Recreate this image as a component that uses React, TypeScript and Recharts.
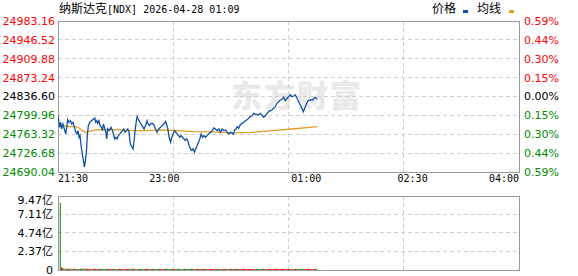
import React from "react";
import {
  LineChart,
  Line,
  BarChart,
  Bar,
  Cell,
  XAxis,
  YAxis,
  CartesianGrid,
  ReferenceArea,
} from "recharts";

const prevClose = 24836.6;
const priceTicks = [
  24690.04, 24726.68, 24763.32, 24799.96, 24836.6, 24873.24, 24909.88,
  24946.52, 24983.16,
];
const timeTicks = [0, 90, 210, 300, 390];
const timeLabels = ["21:30", "23:00", "01:00", "02:30", "04:00"];
const volTicks = [0, 2.37, 4.74, 7.11, 9.47];

// minutes since 21:30
const priceMinutes = [
  0, 1.4, 2.3, 3.1, 4.2, 5.7, 6.5, 7.4, 8.2, 9.3, 10.5, 11.6, 12.7, 13.9, 15.0,
  16.1, 16.9, 17.8, 18.6, 19.5, 20.6, 21.5, 22.3, 23.2, 24.0, 24.9, 25.7, 26.8,
  27.9, 29.1, 30.2, 31.1, 31.9, 32.8, 33.6, 34.7, 35.6, 36.8, 37.6, 38.4, 39.3,
  40.4, 41.2, 42.1, 43.2, 44.0, 44.9, 46.1, 47.2, 48.0, 48.9, 50.0, 51.1, 52.3,
  53.4, 54.5, 55.6, 56.7, 57.9, 59.0, 60.1, 61.0, 61.8, 62.7, 63.5, 64.4, 65.2,
  66.1, 66.9, 67.8, 68.6, 69.4, 70.3, 71.1, 72.0, 72.8, 74.0, 75.4, 76.2, 77.4,
  78.3, 79.6, 81.0, 82.5, 83.8, 85.3, 86.7, 88.1, 89.5, 91.0, 91.8, 92.9, 94.0,
  95.2, 96.3, 97.4, 98.6, 99.7, 100.8, 102.0, 103.1, 104.2, 105.4, 106.5,
  107.6, 108.8, 109.8, 110.9, 112.1, 113.2, 114.3, 115.5, 116.6, 117.7, 118.9,
  120.0, 121.1, 122.3, 123.4, 124.8, 126.2, 127.6, 129.1, 130.4, 131.9, 133.3,
  134.7, 136.1, 137.5, 138.9, 140.3, 141.8, 143.1, 144.6, 146.0, 147.4, 148.2,
  149.4, 150.5, 151.6, 152.8, 154.1, 155.6, 157.0, 158.4, 159.8, 161.2, 162.6,
  164.0, 165.5, 166.8, 168.3, 169.7, 171.1, 172.5, 173.9, 175.3, 176.8, 178.2,
  179.5, 181.0, 182.4, 183.8, 185.2, 186.7, 188.0, 189.5, 190.9, 192.2, 193.7,
  195.1, 196.5, 198.0, 199.4, 200.7, 202.2, 203.6, 205.0, 206.4, 207.5, 208.7,
  209.8, 211.5, 213.4, 215.4, 216.5, 217.6, 218.5, 219.3,
];
const prices = [
  24799.3, 24776.8, 24786.5, 24773.6, 24783.2, 24770.4, 24764.0, 24776.8,
  24791.6, 24786.5, 24789.7, 24783.2, 24786.5, 24776.8, 24767.2, 24764.0,
  24770.4, 24757.5, 24760.7, 24741.5, 24725.4, 24712.5, 24699.7, 24712.5,
  24728.6, 24764.0, 24780.0, 24786.5, 24788.4, 24791.0, 24792.9, 24794.8,
  24786.5, 24789.7, 24784.5, 24789.7, 24780.0, 24776.8, 24770.4, 24783.2,
  24776.8, 24767.2, 24754.3, 24773.6, 24770.4, 24773.6, 24776.8, 24770.4,
  24760.7, 24754.3, 24757.5, 24754.3, 24760.7, 24764.0, 24767.2, 24770.4,
  24773.6, 24767.2, 24770.4, 24773.6, 24767.2, 24747.9, 24741.5, 24738.3,
  24735.0, 24751.1, 24770.4, 24786.5, 24797.4, 24792.9, 24789.7, 24786.5,
  24783.2, 24780.0, 24776.8, 24773.6, 24780.0, 24789.7, 24783.2, 24780.0,
  24783.2, 24784.5, 24782.0, 24773.6, 24767.2, 24773.6, 24776.8, 24780.0,
  24783.2, 24788.4, 24783.2, 24773.6, 24757.5, 24747.9, 24757.5, 24764.0,
  24770.4, 24767.2, 24764.0, 24760.7, 24757.5, 24760.7, 24757.5, 24754.3,
  24751.1, 24754.3, 24751.1, 24741.5, 24735.0, 24731.8, 24735.0, 24728.6,
  24735.0, 24741.5, 24747.9, 24754.3, 24764.0, 24757.5, 24760.7, 24757.5,
  24760.7, 24764.0, 24767.2, 24770.4, 24775.5, 24773.6, 24770.4, 24773.6,
  24767.2, 24773.6, 24770.4, 24771.7, 24767.2, 24764.0, 24767.2, 24765.1,
  24763.2, 24771.6, 24772.9, 24778.0, 24774.9, 24781.3, 24784.6, 24785.7,
  24789.7, 24791.0, 24794.2, 24797.5, 24798.7, 24803.9, 24802.0, 24802.0,
  24800.7, 24803.9, 24800.7, 24796.2, 24798.7, 24803.9, 24807.1, 24809.1,
  24810.4, 24813.7, 24816.8, 24823.4, 24826.5, 24829.8, 24831.2, 24835.0,
  24828.4, 24833.1, 24836.2, 24839.5, 24836.2, 24837.6, 24839.5, 24833.1,
  24826.5, 24820.1, 24813.7, 24807.1, 24813.7, 24820.1, 24828.4, 24829.8,
  24829.8, 24833.1, 24835.0, 24833.1, 24831.7,
];

const avgMinutes = [
  0, 3.7, 9.3, 15.0, 17.8, 20.6, 23.5, 26.3, 31.9, 40.4, 54.5, 63.0, 73.8, 86.7,
  100.8, 114.9, 129.1, 147.4, 164.0, 181.0, 198.0, 219.3,
];
const avgPrices = [
  24787.0, 24780.0, 24778.1, 24778.1, 24775.5, 24770.4, 24766.5, 24769.1,
  24771.7, 24772.3, 24771.7, 24770.4, 24770.4, 24771.7, 24770.4, 24768.5,
  24767.8, 24766.0, 24767.1, 24770.3, 24773.5, 24778.0,
];

// volume per minute (亿), minute 0 .. 219
const volumes = [
  0, 0, 8.61, 0.32, 0.26, 0.2, 0.17, 0.15, 0.16, 0.14,
  0.16, 0.15, 0.14, 0.16, 0.15, 0.14, 0.15, 0.16, 0.14, 0.15,
  0.17, 0.16, 0.18, 0.16, 0.15, 0.16, 0.14, 0.15, 0.14, 0.13,
  0.14, 0.15, 0.14, 0.13, 0.14, 0.15, 0.13, 0.14, 0.15, 0.13,
  0.14, 0.15, 0.13, 0.14, 0.15, 0.13, 0.14, 0.15, 0.13, 0.14,
  0.13, 0.14, 0.15, 0.13, 0.14, 0.13, 0.15, 0.14, 0.13, 0.14,
  0.15, 0.16, 0.15, 0.14, 0.15, 0.16, 0.14, 0.13, 0.14, 0.13,
  0.14, 0.13, 0.15, 0.14, 0.13, 0.14, 0.15, 0.13, 0.14, 0.13,
  0.14, 0.15, 0.13, 0.14, 0.13, 0.15, 0.14, 0.13, 0.14, 0.13,
  0.14, 0.15, 0.16, 0.15, 0.14, 0.13, 0.14, 0.13, 0.15, 0.14,
  0.13, 0.14, 0.15, 0.13, 0.14, 0.13, 0.14, 0.15, 0.13, 0.14,
  0.15, 0.14, 0.13, 0.15, 0.16, 0.14, 0.13, 0.15, 0.14, 0.13,
  0.14, 0.13, 0.15, 0.14, 0.13, 0.14, 0.13, 0.15, 0.14, 0.13,
  0.14, 0.13, 0.14, 0.15, 0.13, 0.14, 0.13, 0.15, 0.14, 0.13,
  0.14, 0.13, 0.15, 0.14, 0.13, 0.14, 0.15, 0.13, 0.14, 0.13,
  0.15, 0.14, 0.13, 0.14, 0.15, 0.13, 0.14, 0.15, 0.14, 0.13,
  0.14, 0.15, 0.13, 0.14, 0.13, 0.15, 0.14, 0.13, 0.14, 0.15,
  0.13, 0.14, 0.13, 0.15, 0.14, 0.13, 0.14, 0.15, 0.13, 0.14,
  0.15, 0.14, 0.13, 0.15, 0.14, 0.16, 0.15, 0.14, 0.15, 0.13,
  0.14, 0.15, 0.14, 0.13, 0.15, 0.14, 0.13, 0.14, 0.15, 0.14,
  0.13, 0.14, 0.15, 0.14, 0.16, 0.15, 0.14, 0.13, 0.15, 0.14,
  0.13, 0.14, 0.15, 0.13, 0.14, 0.15, 0.13, 0.14, 0.15, 0.14,
];

const RED = "#ff0000";
const GREEN = "#008a00";
const BLUE = "#1150a6";
const GOLD = "#e0a020";
const GRID = "#cfcfcf";
const BORDER = "#999";

const priceData = priceMinutes.map((t, i) => ({ t, p: prices[i] }));
const avgData = avgMinutes.map((t, i) => ({ t, a: avgPrices[i] }));

// colour each minute's volume by the last price move up to that minute
const lastMove = (m: number) => {
  let k = 0;
  while (k + 1 < priceMinutes.length && priceMinutes[k + 1] <= m) k++;
  if (k === 0) return -1;
  return prices[k] - prices[k - 1];
};
const volData = volumes.map((v, t) => ({ t, v, up: lastMove(t) > 0 }));

const colorOf = (v: number) =>
  Math.abs(v - prevClose) < 0.005 ? "#000" : v > prevClose ? RED : GREEN;

function PriceTick({ x, y, payload }: any) {
  return (
    <text
      x={x}
      y={y}
      dy="0.36em"
      textAnchor="end"
      fill={colorOf(payload.value)}
      fontSize={11}
      fontFamily="DejaVu Sans"
    >
      {payload.value.toFixed(2)}
    </text>
  );
}

function PctTick({ x, y, payload }: any) {
  const pct = (Math.abs(payload.value - prevClose) / prevClose) * 100;
  return (
    <text
      x={x}
      y={y}
      dy="0.36em"
      textAnchor="start"
      fill={colorOf(payload.value)}
      fontSize={11}
      fontFamily="DejaVu Sans"
    >
      {pct.toFixed(2)}%
    </text>
  );
}

function TimeTick({ x, y, payload }: any) {
  const i = timeTicks.indexOf(payload.value);
  const anchor = i === 0 ? "start" : i === timeTicks.length - 1 ? "end" : "middle";
  return (
    <text
      x={x}
      y={y + 10}
      textAnchor={anchor}
      fill="#000"
      fontSize={10}
      fontFamily="DejaVu Sans Mono"
    >
      {timeLabels[i]}
    </text>
  );
}

function VolTick({ x, y, payload }: any) {
  const v = payload.value;
  const top = v === volTicks[volTicks.length - 1];
  return (
    <text
      x={x}
      y={top ? y + 4 : y}
      dy="0.36em"
      textAnchor="end"
      fill="#000"
      fontSize={11}
      fontFamily="DejaVu Sans, Noto Sans CJK SC"
    >
      {v === 0 ? "0" : `${v.toFixed(2)}亿`}
    </text>
  );
}

const quarterLines = ({ offset }: any) => [
  offset.left + offset.width * 0.25,
  offset.left + offset.width * 0.5,
  offset.left + offset.width * 0.75,
];

export default function App() {
  const lo = priceTicks[0];
  const hi = priceTicks[priceTicks.length - 1];
  const vmax = volTicks[volTicks.length - 1];

  return (
    <div
      style={{
        position: "absolute",
        left: 0,
        top: 0,
        width: 578,
        height: 276,
        background: "#fff",
        overflow: "hidden",
      }}
    >
      {/* watermark */}
      <div
        style={{
          position: "absolute",
          left: 231,
          top: 78,
          fontFamily: "Noto Sans CJK SC",
          fontWeight: 900,
          fontSize: 31,
          lineHeight: "32px",
          letterSpacing: 2,
          color: "#e9e9e9",
        }}
      >
        东方财富
      </div>

      {/* title */}
      <div
        style={{
          position: "absolute",
          left: 59,
          top: 1,
          lineHeight: "14px",
          whiteSpace: "nowrap",
          color: "#000",
        }}
      >
        <span style={{ fontFamily: "Noto Sans CJK SC", fontSize: 12 }}>纳斯达克</span>
        <span style={{ fontFamily: "DejaVu Sans Mono", fontSize: 10 }}>
          [NDX] 2026-04-28 01:09
        </span>
      </div>

      {/* legend */}
      <div
        style={{
          position: "absolute",
          left: 432,
          top: 1,
          lineHeight: "14px",
          fontFamily: "Noto Sans CJK SC",
          fontSize: 12,
          color: "#000",
          whiteSpace: "nowrap",
        }}
      >
        价格
        <span style={{ display: "inline-block", width: 5, height: 3, background: BLUE, margin: "0 9px 0 7px" }} />
        均线
        <span style={{ display: "inline-block", width: 5, height: 3, background: GOLD, marginLeft: 8 }} />
      </div>

      <div style={{ position: "absolute", left: 0, top: 0 }}>
        <LineChart width={578} height={190} margin={{ top: 21, right: 0, bottom: 0, left: 0 }}>
          <CartesianGrid
            stroke={GRID}
            strokeDasharray="4 3"
            verticalCoordinatesGenerator={quarterLines}
            shapeRendering="crispEdges"
          />
          <XAxis
            type="number"
            dataKey="t"
            domain={[0, 390]}
            ticks={timeTicks}
            interval={0}
            tick={<TimeTick />}
            height={18}
            axisLine={false}
            tickLine={false}
            tickSize={0}
            tickMargin={0}
            allowDataOverflow
          />
          <YAxis
            domain={[lo, hi]}
            ticks={priceTicks}
            interval={0}
            tick={<PriceTick />}
            width={58}
            axisLine={false}
            tickLine={false}
            tickSize={0}
            tickMargin={3}
            allowDataOverflow
          />
          <YAxis
            yAxisId="pct"
            orientation="right"
            domain={[lo, hi]}
            ticks={priceTicks}
            interval={0}
            tick={<PctTick />}
            width={59}
            axisLine={false}
            tickLine={false}
            tickSize={0}
            tickMargin={5}
            allowDataOverflow
          />
          <ReferenceArea
            x1={0}
            x2={390}
            y1={lo}
            y2={hi}
            fill="none"
            fillOpacity={0}
            stroke={BORDER}
            strokeWidth={1}
            shapeRendering="crispEdges"
          />
          <Line
            data={avgData}
            dataKey="a"
            type="linear"
            stroke={GOLD}
            strokeWidth={1.3}
            dot={false}
            isAnimationActive={false}
          />
          <Line
            data={priceData}
            dataKey="p"
            type="linear"
            stroke={BLUE}
            strokeWidth={1.3}
            dot={false}
            isAnimationActive={false}
          />
        </LineChart>
      </div>

      <div style={{ position: "absolute", left: 0, top: 190 }}>
        <BarChart
          width={578}
          height={86}
          data={volData}
          margin={{ top: 6, right: 59, bottom: 6, left: 0 }}
          barCategoryGap={0}
        >
          <CartesianGrid
            stroke={GRID}
            strokeDasharray="4 3"
            verticalCoordinatesGenerator={quarterLines}
            shapeRendering="crispEdges"
          />
          <XAxis type="number" dataKey="t" domain={[0, 390]} hide allowDataOverflow />
          <YAxis
            domain={[0, vmax]}
            ticks={volTicks}
            interval={0}
            tick={<VolTick />}
            width={58}
            axisLine={false}
            tickLine={false}
            tickSize={0}
            tickMargin={5}
            allowDataOverflow
          />
          <Bar dataKey="v" barSize={1} isAnimationActive={false}>
            {volData.map((d) => (
              <Cell key={d.t} fill={d.up ? RED : GREEN} />
            ))}
          </Bar>
          <ReferenceArea
            x1={0}
            x2={390}
            y1={0}
            y2={vmax}
            fill="none"
            fillOpacity={0}
            stroke={BORDER}
            strokeWidth={1}
            shapeRendering="crispEdges"
          />
        </BarChart>
      </div>
    </div>
  );
}
